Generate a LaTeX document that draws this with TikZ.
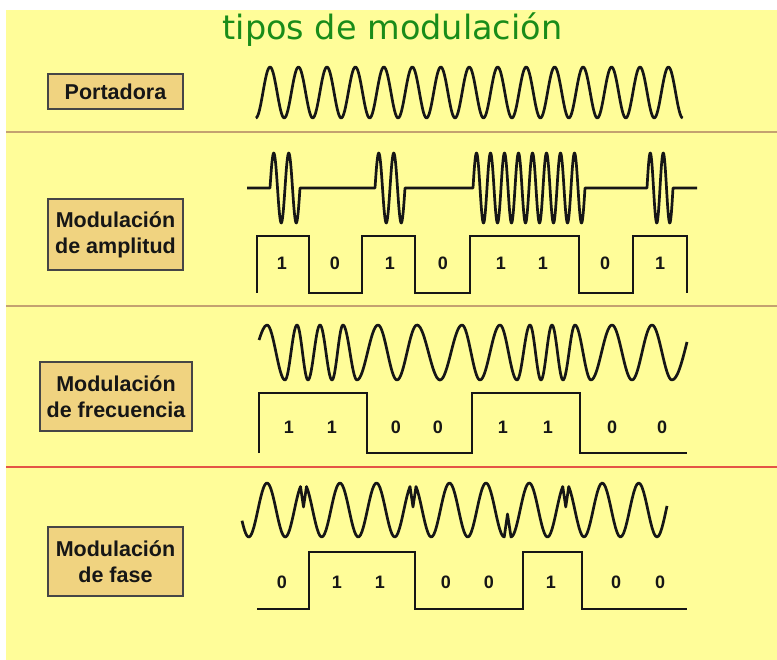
\documentclass[tikz,border=0pt]{standalone}
\usepackage{fontspec}
\setmainfont{Liberation Sans}
\newfontfamily\titlefont{DejaVu Sans}

\definecolor{paper}{RGB}{255,253,153}
\definecolor{boxfill}{RGB}{240,211,128}
\definecolor{boxline}{RGB}{70,70,70}
\definecolor{tanline}{RGB}{196,162,112}
\definecolor{redline}{RGB}{228,84,70}
\definecolor{titlegreen}{RGB}{25,140,25}
\definecolor{ink}{RGB}{22,22,22}

% one AM burst: start x, quarter length, number of cycles (baseline 188)
\newcommand\amburst[3]{\foreach \i in {1,...,#3}{
  sin ({#1+(4*\i-3)*#2},153) cos ({#1+(4*\i-2)*#2},188)
  sin ({#1+(4*\i-1)*#2},223) cos ({#1+4*\i*#2},188) }}

\begin{document}
\begin{tikzpicture}[x=1pt,y=-1pt,
  wave/.style={draw=ink,line width=2.7pt,line join=round},
  sqwave/.style={draw=ink,line width=2.7pt,line join=miter},
  labelbox/.style={draw=boxline,line width=1.4pt,fill=boxfill,inner sep=0pt,
    align=center,font=\bfseries\fontsize{21.5}{26}\selectfont,text=ink},
  bit/.style={font=\bfseries\fontsize{18}{18}\selectfont,text=ink,inner sep=0pt},
  sep/.style={line width=2.2pt}]

\useasboundingbox (0,0) rectangle (777,660);
\fill[white] (0,0) rectangle (777,660);
\fill[paper] (6,10) rectangle (777,660);

% section separators
\draw[sep,tanline] (6,132) -- (777,132);
\draw[sep,tanline] (6,306) -- (777,306);
\draw[sep,redline] (6,467) -- (777,467);

% title
\node[anchor=base,text=titlegreen,inner sep=0pt,
  font=\titlefont\fontsize{33.5}{40}\selectfont] (title) at (392.5,40) {tipos de modulación};

% row labels
\node[labelbox,minimum width=135pt,minimum height=35pt] (portadora) at (115.5,91.5) {Portadora};
\node[labelbox,minimum width=135pt,minimum height=71pt] (amlabel) at (115.5,234.5) {Modulación\\de amplitud};
\node[labelbox,minimum width=152pt,minimum height=69pt] (fmlabel) at (116,396.5) {Modulación\\de frecuencia};
\node[labelbox,minimum width=135pt,minimum height=69pt] (pmlabel) at (115.5,561.5) {Modulación\\de fase};

% carrier
\draw[wave] (255.8,118) \foreach \i in {1,...,15}{
  cos ({255.8+(4*\i-3)*7.115},92.5) sin ({255.8+(4*\i-2)*7.115},67)
  cos ({255.8+(4*\i-1)*7.115},92.5) sin ({255.8+4*\i*7.115},118) };

% amplitude modulation
\draw[wave] (247,188) -- (270,188) \amburst{270}{3.75}{2}
  -- (375,188) \amburst{375}{3.75}{2}
  -- (473,188) \amburst{473}{3.5}{8}
  -- (647,188) \amburst{647}{3.25}{2}
  -- (697,188);
\draw[sqwave] (257,293) -- (257,236) -- (309,236) -- (309,293) -- (362,293)
  -- (362,236) -- (415,236) -- (415,293) -- (470,293) -- (470,236)
  -- (579,236) -- (579,293) -- (633,293) -- (633,236) -- (687,236) -- (687,293);
\foreach \x/\b [count=\k] in {282/1,335/0,390/1,443/0,501/1,543/1,605/0,660/1}
  \node[bit] (am-\k) at (\x,263) {\b};

% frequency modulation: half waves between successive extrema
\draw[wave] (259,340) sin (267,325)
  \foreach \xa/\xb/\yb in {267/285/380,285/297/325,297/308/380,308/320/325,
      320/332/380,332/343/325,343/357/380,357/378/325,378/397/380,397/417/325,
      417/440/380,440/462/325,462/480/380,480/500/325,500/517/380,517/530/325,
      530/541/380,541/552/325,552/563/380,563/575/325,575/591/380,591/612/325,
      612/632/380,632/652/325,652/672/380}
    { cos ({(\xa+\xb)/2},352.5) sin (\xb,\yb) }
  cos (687,342);
\draw[sqwave] (259,453) -- (259,393) -- (367,393) -- (367,453) -- (472,453)
  -- (472,393) -- (580,393) -- (580,453) -- (687,453);
\foreach \x/\b [count=\k] in {289/1,332/1,396/0,438/0,503/1,548/1,612/0,662/0}
  \node[bit] (fm-\k) at (\x,427) {\b};

% phase modulation, with the phase jumps at the bit changes
\draw[wave]
  plot[domain=242:300.5,samples=50] (\x,{510-27*cos((\x-267)/36.5*360)})
  -- (303.5,507)
  -- plot[domain=306.5:410,samples=70] (\x,{510-27*cos((\x-267)/36.5*360)})
  -- (413,507)
  -- plot[domain=416:504.25,samples=60] (\x,{510-27*cos((\x-267)/36.5*360)})
  -- (507.5,514) -- (511,537)
  -- plot[domain=511:562.75,samples=40] (\x,{510-27*cos((\x-511)/36.5*360+180)})
  -- (565.75,507)
  -- plot[domain=568.75:667,samples=60] (\x,{510-27*cos((\x-511)/36.5*360+180)});
\draw[sqwave] (257,609) -- (309,609) -- (309,552) -- (415,552) -- (415,609)
  -- (523,609) -- (523,552) -- (582,552) -- (582,609) -- (687,609);
\foreach \x/\b [count=\k] in {282/0,337/1,380/1,446/0,489/0,551/1,616/0,660/0}
  \node[bit] (pm-\k) at (\x,582) {\b};

\end{tikzpicture}
\end{document}
